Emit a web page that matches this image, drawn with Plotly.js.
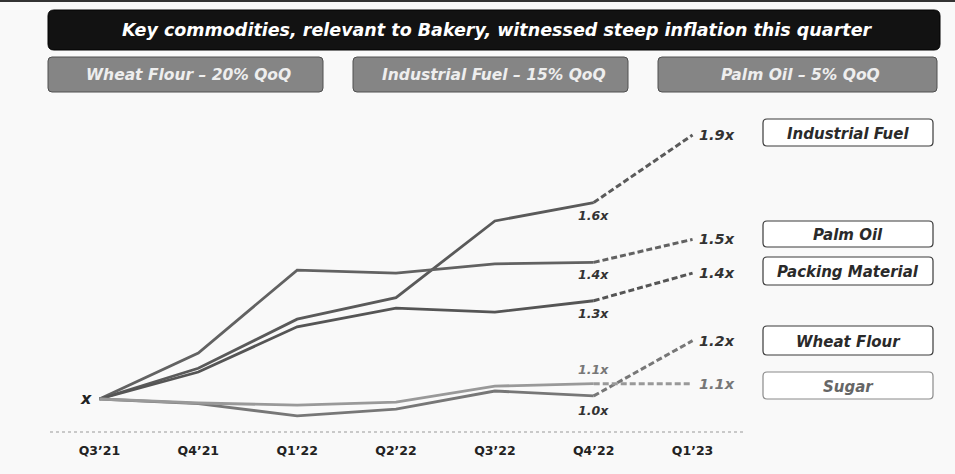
<!DOCTYPE html>
<html>
<head>
<meta charset="utf-8">
<script src="https://cdn.plot.ly/plotly-3.0.1.min.js"></script>
<style>
  html, body { margin: 0; padding: 0; background: #f9f9f9; }
  #chart { width: 955px; height: 474px; }
</style>
</head>
<body>
<div id="chart"></div>
<script>
// Price index relative to Q3'21 (x = 1.0)
const quarters = ["Q3’21", "Q4’21", "Q1’22", "Q2’22", "Q3’22", "Q4’22", "Q1’23"];
const industrialFuel  = [1.00, 1.10, 1.26, 1.33, 1.58, 1.64, 1.86];
const palmOil         = [1.00, 1.15, 1.42, 1.41, 1.44, 1.445, 1.52];
const packingMaterial = [1.00, 1.088, 1.235, 1.296, 1.283, 1.32, 1.41];
const wheatFlour      = [1.00, 0.985, 0.945, 0.967, 1.026, 1.01, 1.19];
const sugar           = [1.00, 0.987, 0.98, 0.99, 1.042, 1.05, 1.05];

const seriesNames = ["Industrial Fuel", "Palm Oil", "Packing Material", "Wheat Flour", "Sugar"];
const headline = "Key commodities, relevant to Bakery, witnessed steep inflation this quarter";
const qoqLabels = ["Wheat Flour – 20% QoQ", "Industrial Fuel – 15% QoQ", "Palm Oil – 5% QoQ"];

// Plot area geometry (pixels)
const W = 955, H = 474;
const M = { l: 50, r: 213, t: 110, b: 42 };
const PW = W - M.l - M.r, PH = H - M.t - M.b;
const px = x => (x - M.l) / PW;
const py = y => (H - M.b - y) / PH;

const series = [
  { name: seriesNames[0], y: industrialFuel,  color: "#5a5a5a", q4shift: -13, endColor: "#333" },
  { name: seriesNames[1], y: palmOil,         color: "#626262", q4shift: -12, endColor: "#333" },
  { name: seriesNames[2], y: packingMaterial, color: "#555555", q4shift: -13, endColor: "#333" },
  { name: seriesNames[3], y: wheatFlour,      color: "#777777", q4shift: -15, endColor: "#333" },
  { name: seriesNames[4], y: sugar,           color: "#999999", q4shift: 14,  endColor: "#777" }
];

const last = quarters.length - 1;
const traces = [];
series.forEach(s => {
  // actuals up to Q4'22
  traces.push({
    x: quarters.slice(0, last), y: s.y.slice(0, last),
    type: "scatter", mode: "lines", name: s.name, showlegend: false,
    line: { color: s.color, width: 2.8 }, hoverinfo: "skip"
  });
  // projection to Q1'23
  traces.push({
    x: quarters.slice(last - 1), y: s.y.slice(last - 1),
    type: "scatter", mode: "lines", name: s.name, showlegend: false,
    line: { color: s.color, width: 3, dash: "6px,3px" }, hoverinfo: "skip"
  });
});

const annotations = [];
const shapes = [];
const fmt = v => v.toFixed(1) + "x";

series.forEach(s => {
  annotations.push({
    x: quarters[last], y: s.y[last], xref: "x", yref: "y",
    text: fmt(s.y[last]), showarrow: false, xanchor: "left", yanchor: "middle", xshift: 4,
    font: { family: "DejaVu Sans", size: 14.5, color: s.endColor, weight: "bold", style: "italic" }
  });
  annotations.push({
    x: quarters[last - 1], y: s.y[last - 1], xref: "x", yref: "y",
    text: fmt(s.y[last - 1]), showarrow: false, xanchor: "center", yanchor: "middle", yshift: s.q4shift,
    font: { family: "DejaVu Sans", size: 12.5, color: s.endColor, weight: "bold", style: "italic" }
  });
});

// base marker
annotations.push({
  x: quarters[0], y: sugar[0], xref: "x", yref: "y", text: "x", showarrow: false,
  xanchor: "right", yanchor: "middle", xshift: -5, yshift: 1,
  font: { family: "DejaVu Sans", size: 16, color: "#222", weight: "bold", style: "italic" }
});

function roundRect(x0, y0, x1, y1, r) {
  const p = (x, y) => px(x) + "," + py(y);
  return "M" + p(x0 + r, y0) + " L" + p(x1 - r, y0) + " Q" + p(x1, y0) + " " + p(x1, y0 + r) +
         " L" + p(x1, y1 - r) + " Q" + p(x1, y1) + " " + p(x1 - r, y1) +
         " L" + p(x0 + r, y1) + " Q" + p(x0, y1) + " " + p(x0, y1 - r) +
         " L" + p(x0, y0 + r) + " Q" + p(x0, y0) + " " + p(x0 + r, y0) + " Z";
}
function boxShape(x0, y0, x1, y1, r, fill, line, lw) {
  shapes.push({ type: "path", xref: "paper", yref: "paper", path: roundRect(x0, y0, x1, y1, r),
    fillcolor: fill, line: { color: line, width: lw }, layer: "above" });
}
function label(cx, cy, text, size, color) {
  annotations.push({ x: px(cx), y: py(cy), xref: "paper", yref: "paper", text: text, showarrow: false,
    xanchor: "center", yanchor: "middle",
    font: { family: "DejaVu Sans", size: size, color: color, weight: "bold", style: "italic" } });
}

// top rule
shapes.push({ type: "line", xref: "paper", yref: "paper", x0: px(0), x1: px(W), y0: py(1), y1: py(1),
  line: { color: "#333", width: 2 } });

// headline bar
boxShape(48, 10, 940, 50, 6, "#121212", "#000", 1);
label(497, 30, headline, 17.5, "#ffffff");

// QoQ boxes
const qoqBoxes = [[48, 323], [353, 628], [658, 937]];
qoqBoxes.forEach((b, i) => {
  boxShape(b[0], 57, b[1], 92, 4, "#858585", "#505050", 1);
  label((b[0] + b[1]) / 2 + 3, 75, qoqLabels[i], 15.5, "#eeeeee");
});

// series name boxes
const nameBoxes = [[119, 146], [221, 247], [257, 285], [326, 355], [372, 399]];
nameBoxes.forEach((b, i) => {
  const light = i === 4;
  boxShape(763, b[0], 933, b[1], 4, "#ffffff", light ? "#8a8a8a" : "#3a3a3a", 1.2);
  label(848, (b[0] + b[1]) / 2 + 1, seriesNames[i], 15, light ? "#666" : "#2a2a2a");
});

// dotted baseline
shapes.push({ type: "line", xref: "paper", yref: "paper", x0: px(50), x1: px(745), y0: 0, y1: 0,
  line: { color: "#9a9a9a", width: 1.2, dash: "dot" } });

const layout = {
  width: W, height: H,
  margin: M,
  paper_bgcolor: "#f9f9f9",
  plot_bgcolor: "rgba(0,0,0,0)",
  showlegend: false,
  xaxis: {
    type: "category", categoryorder: "array", categoryarray: quarters,
    range: [-0.5, quarters.length - 0.5],
    showgrid: false, zeroline: false, showline: false, ticks: "",
    ticklabelstandoff: 9,
    tickfont: { family: "DejaVu Sans", size: 12.5, color: "#222", weight: "bold" },
    fixedrange: true
  },
  yaxis: {
    range: [1 - 33 / 307, 1 + 289 / 307],
    visible: false, showgrid: false, zeroline: false, fixedrange: true
  },
  shapes: shapes,
  annotations: annotations
};

Plotly.newPlot("chart", traces, layout, { staticPlot: true, displayModeBar: false });
</script>
</body>
</html>
